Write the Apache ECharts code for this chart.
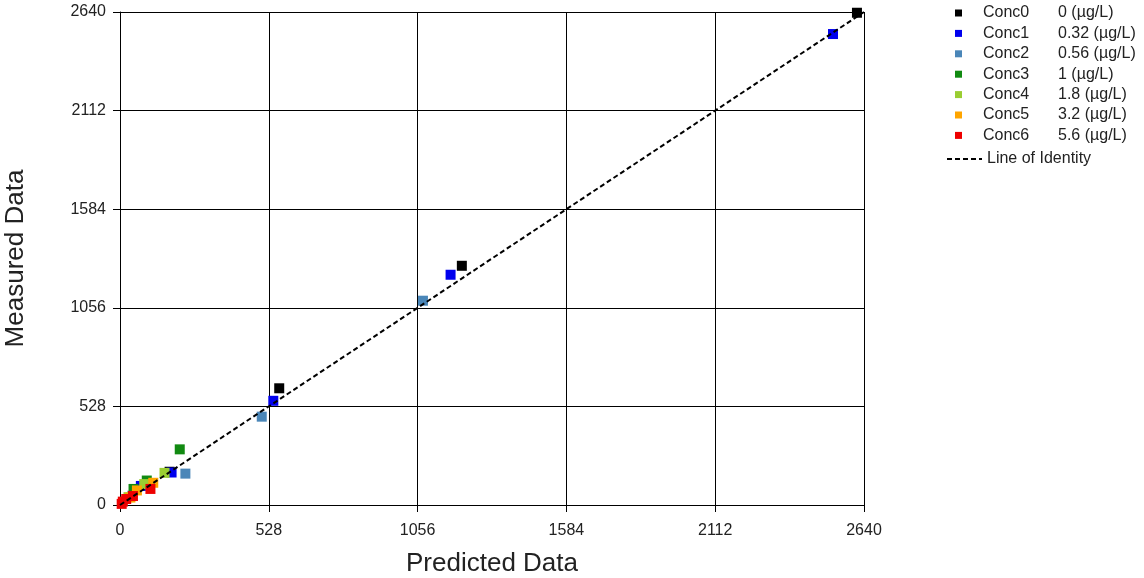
<!DOCTYPE html>
<html>
<head>
<meta charset="utf-8">
<script src="https://cdn.jsdelivr.net/npm/echarts@6/dist/echarts.min.js"></script>
<style>
  html, body { margin: 0; padding: 0; background: #fff; }
  #chart { width: 1144px; height: 578px; }
</style>
</head>
<body>
<div id="chart"></div>
<script>
// Predicted vs. measured values per concentration level
const seriesNames = ['Conc0', 'Conc1', 'Conc2', 'Conc3', 'Conc4', 'Conc5', 'Conc6'];
const concLabels = ['0 (µg/L)', '0.32 (µg/L)', '0.56 (µg/L)', '1 (µg/L)', '1.8 (µg/L)', '3.2 (µg/L)', '5.6 (µg/L)'];
const seriesColors = ['#000000', '#0000ee', '#4a86b8', '#118a11', '#9acd32', '#ffa500', '#ee0000'];

// [predicted, measured]
const conc0 = [[2615, 2636], [1213, 1281], [565, 625], [176, 178]];
const conc1 = [[2530, 2522], [1173, 1233], [544, 558], [183, 174], [74, 102]];
const conc2 = [[1075, 1094], [503, 473], [232, 168], [44, 50]];
const conc3 = [[212, 298], [95, 131], [48, 86]];
const conc4 = [[158, 172], [86, 112], [30, 42]];
const conc5 = [[118, 119], [60, 78], [37, 40]];
const conc6 = [[108, 86], [46, 48], [22, 32], [10, 18], [6, 6]];
const seriesData = [conc0, conc1, conc2, conc3, conc4, conc5, conc6];

const identityName = 'Line of Identity';
const identityLine = [[0, 0], [2640, 2640]];

const axisTicks = [0, 528, 1056, 1584, 2112, 2640];

const chart = echarts.init(document.getElementById('chart'), null, { renderer: 'canvas' });

const font = 'Liberation Sans, Arial, sans-serif';

function valueAxis(name, nameGap, rotate, labelMargin) {
  return {
    type: 'value',
    min: axisTicks[0],
    max: axisTicks[axisTicks.length - 1],
    interval: axisTicks[1] - axisTicks[0],
    name: name,
    nameLocation: 'middle',
    nameGap: nameGap,
    nameRotate: rotate,
    nameTextStyle: { fontFamily: font, fontSize: 26, color: '#222' },
    axisLine: { show: true, onZero: false, lineStyle: { color: '#000', width: 1 } },
    axisTick: { show: true, length: 7, lineStyle: { color: '#000' } },
    axisLabel: {
      fontFamily: font, fontSize: 16, color: '#222', margin: labelMargin,
      formatter: v => String(v)
    },
    splitLine: { show: true, lineStyle: { color: '#000', width: 1 } }
  };
}

const scatterSeries = seriesNames.map((n, i) => ({
  name: n,
  type: 'scatter',
  data: seriesData[i],
  symbol: 'rect',
  symbolSize: 10,
  itemStyle: { color: seriesColors[i], opacity: 1 },
  z: 3
}));

const option = {
  backgroundColor: '#ffffff',
  animation: false,
  grid: { left: 120, right: 280, top: 12, bottom: 73, containLabel: false, outerBoundsMode: 'none' },
  xAxis: valueAxis('Predicted Data', 46, 0, 18),
  yAxis: valueAxis('Measured Data', 91, 90, 14),
  legend: [
    {
      data: seriesNames,
      orient: 'vertical',
      left: 950,
      top: 0,
      itemWidth: 7,
      itemHeight: 7,
      itemGap: 4.4,
      icon: 'rect',
      textStyle: {
        fontFamily: font,
        fontSize: 16,
        color: '#222',
        rich: {
          s: { width: 16, fontSize: 16 },
          a: { width: 75, fontFamily: font, fontSize: 16, color: '#222' },
          b: { fontFamily: font, fontSize: 16, color: '#222' }
        }
      },
      formatter: name => {
        const i = seriesNames.indexOf(name);
        return '{s| }{a|' + name + '}{b|' + concLabels[i] + '}';
      }
    },
    {
      data: [identityName],
      orient: 'vertical',
      left: 941,
      top: 146,
      itemWidth: 35,
      itemHeight: 14,
      itemGap: 5,
      itemStyle: { color: 'rgba(0,0,0,0)', borderWidth: 0, opacity: 0 },
      textStyle: { fontFamily: font, fontSize: 16, color: '#222' }
    }
  ],
  series: scatterSeries.concat([{
    name: identityName,
    type: 'line',
    data: identityLine,
    symbol: 'none',
    lineStyle: { color: '#000', width: 2, type: [5, 3] },
    itemStyle: { color: '#000' },
    z: 4
  }])
};

chart.setOption(option);
</script>
</body>
</html>
